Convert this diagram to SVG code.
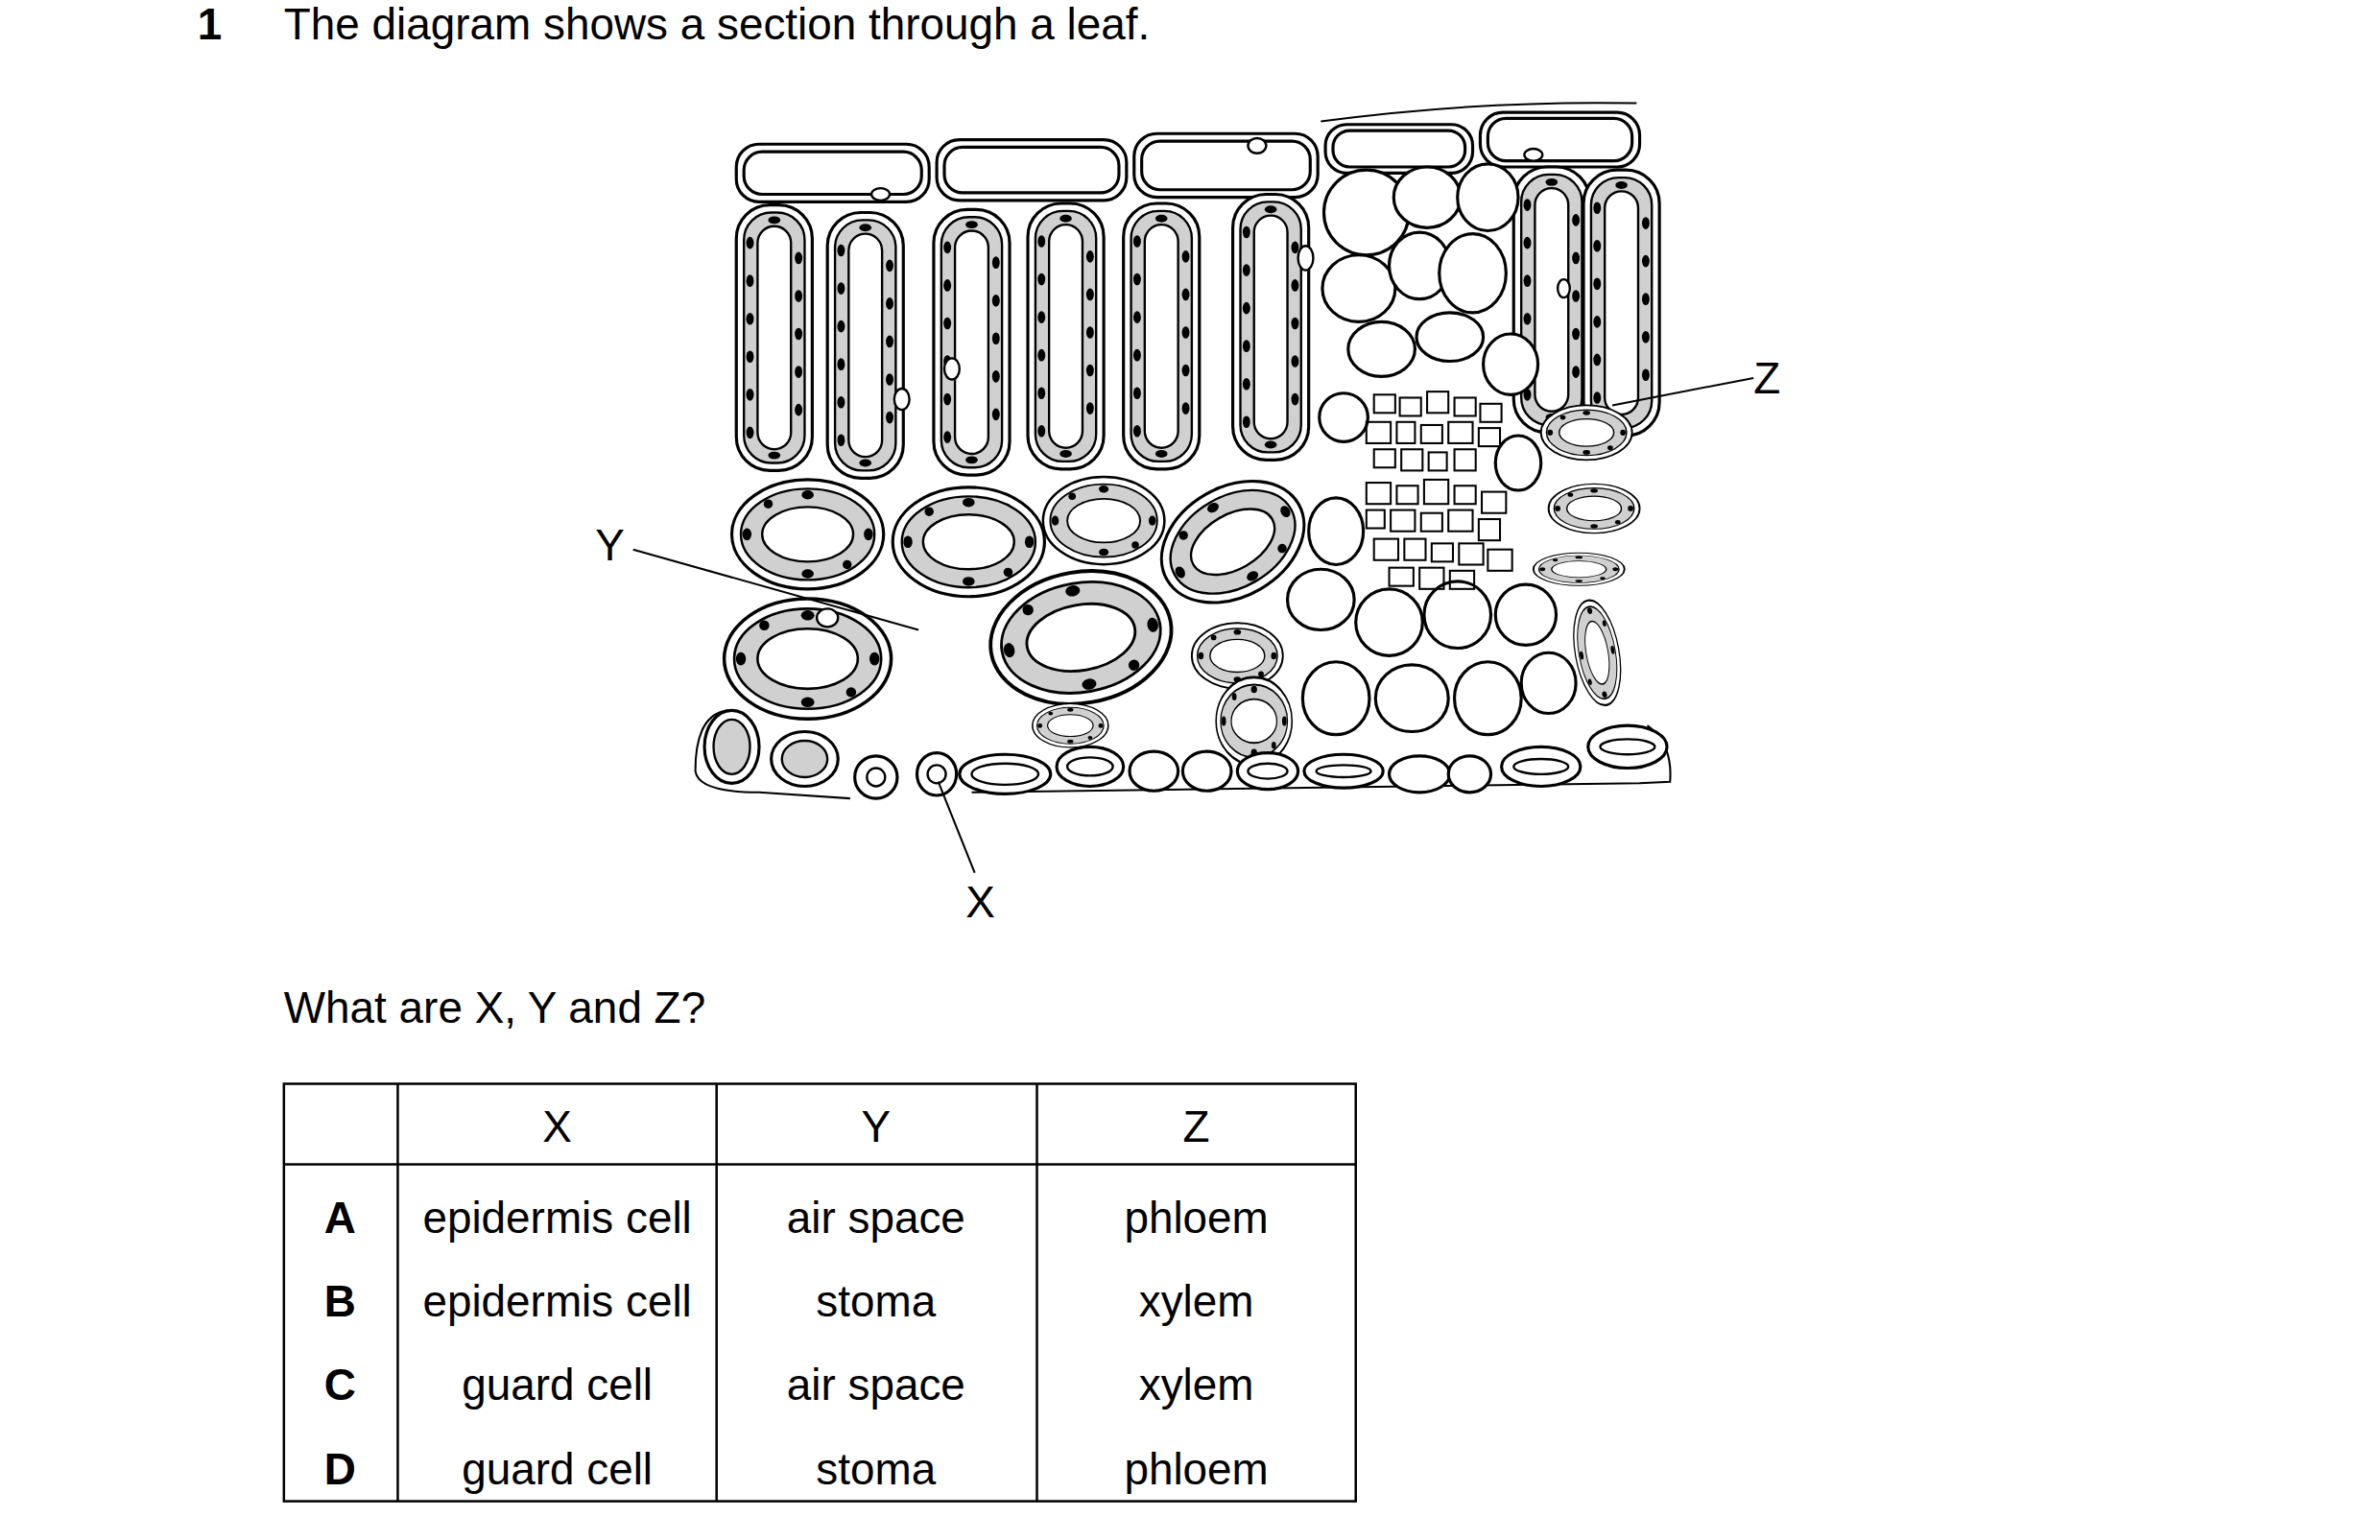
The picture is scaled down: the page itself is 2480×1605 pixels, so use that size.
<svg xmlns="http://www.w3.org/2000/svg" width="2480" height="1605" viewBox="0 0 2480 1605">
<style>
text{font-family:"Liberation Sans",Arial,sans-serif;font-size:29px;fill:#000}
.c{text-anchor:middle}
.o{fill:#fff;stroke:#000;stroke-width:2}
.g{fill:#d0d0d0;stroke:#000;stroke-width:1.5}
.w{fill:#fff;stroke:#000;stroke-width:1.5}
.l{stroke:#000;stroke-width:1.3;fill:none}
.t{stroke:#000;stroke-width:1.6;fill:none}
</style>
<defs>
<g id="pal"><rect x="0" y="0" width="50" height="175" rx="22" class="o"/><rect x="5" y="5" width="40" height="165" rx="18" class="g"/><rect x="14" y="14" width="22" height="147" rx="11" class="w"/>
<g fill="#000"><ellipse cx="9" cy="25" rx="2.5" ry="4"/><ellipse cx="9" cy="50" rx="2.5" ry="4"/><ellipse cx="9" cy="75" rx="2.5" ry="4"/><ellipse cx="9" cy="100" rx="2.5" ry="4"/><ellipse cx="9" cy="125" rx="2.5" ry="4"/><ellipse cx="9" cy="150" rx="2.5" ry="4"/><ellipse cx="41" cy="35" rx="2.5" ry="4"/><ellipse cx="41" cy="60" rx="2.5" ry="4"/><ellipse cx="41" cy="85" rx="2.5" ry="4"/><ellipse cx="41" cy="110" rx="2.5" ry="4"/><ellipse cx="41" cy="135" rx="2.5" ry="4"/><ellipse cx="25" cy="165" rx="4" ry="2.5"/><ellipse cx="25" cy="10" rx="4" ry="2.5"/></g></g>
<g id="sp"><ellipse cx="0" cy="0" rx="50" ry="36" class="o"/><ellipse cx="0" cy="0" rx="44" ry="30" class="g"/><ellipse cx="0" cy="0" rx="30" ry="18" class="w"/>
<g fill="#000"><ellipse cx="-40" cy="0" rx="3" ry="4"/><ellipse cx="40" cy="0" rx="3" ry="4"/><ellipse cx="0" cy="-26" rx="4" ry="3"/><ellipse cx="0" cy="26" rx="4" ry="3"/><ellipse cx="-26" cy="-20" rx="3" ry="3"/><ellipse cx="26" cy="20" rx="3" ry="3"/></g></g>
</defs>
<g transform="scale(1.582)">
<g id="title"><text x="130" y="26" style="font-weight:bold">1</text><text x="187" y="26">The diagram shows a section through a leaf.</text></g>
<g id="upper-epidermis">
<rect x="485" y="95" width="127" height="38" rx="15" class="o"/><rect x="490" y="100" width="117" height="28" rx="12" class="o"/>
<rect x="617" y="92" width="125" height="40" rx="15" class="o"/><rect x="622" y="97" width="115" height="30" rx="12" class="o"/>
<rect x="747" y="88" width="121" height="42" rx="15" class="o"/><rect x="752" y="93" width="111" height="32" rx="12" class="o"/>
<rect x="873" y="82" width="97" height="32" rx="14" class="o"/><rect x="878" y="86" width="87" height="24" rx="11" class="o"/>
<rect x="975" y="74" width="105" height="36" rx="15" class="o"/><rect x="980" y="78" width="95" height="28" rx="12" class="o"/>
<path d="M870,80 Q975,66 1078,68" class="l"/>
<ellipse cx="580" cy="128" rx="6" ry="4" class="w"/><ellipse cx="828" cy="96" rx="6" ry="5" class="w"/><ellipse cx="1010" cy="102" rx="6" ry="4" class="w"/>
</g>
<g id="palisade">
<use href="#pal" x="485" y="135"/><use href="#pal" x="545" y="140"/><use href="#pal" x="615" y="138"/><use href="#pal" x="677" y="134"/><use href="#pal" x="740" y="134"/><use href="#pal" x="812" y="128"/><use href="#pal" x="997" y="110"/><use href="#pal" x="1043" y="112"/>
<ellipse cx="627" cy="243" rx="5" ry="7" class="w"/><ellipse cx="594" cy="263" rx="5" ry="7" class="w"/><ellipse cx="860" cy="170" rx="5" ry="8" class="w"/><ellipse cx="1030" cy="190" rx="4" ry="6" class="w"/>
</g>
<g id="spongy">
<use href="#sp" transform="translate(532,352)"/><use href="#sp" transform="translate(638,357)"/><use href="#sp" transform="translate(727,343) scale(0.8)"/><use href="#sp" transform="translate(812,357) rotate(-30)"/>
<use href="#sp" transform="translate(532,434) scale(1.1)"/><use href="#sp" transform="translate(712,420) rotate(-10) scale(1.2)"/>
<use href="#sp" transform="translate(815,432) scale(0.6)"/><use href="#sp" transform="translate(826,475) scale(0.5,0.8)"/><use href="#sp" transform="translate(705,478) scale(0.5,0.4)"/>
<use href="#sp" transform="translate(1045,285) scale(0.6,0.5)"/><use href="#sp" transform="translate(1050,335) scale(0.6,0.45)"/><use href="#sp" transform="translate(1040,375) scale(0.6,0.3)"/><use href="#sp" transform="translate(1052,430) rotate(80) scale(0.7,0.4)"/>
<ellipse cx="545" cy="407" rx="7" ry="6" class="w"/>
</g>
<g id="vascular-bundle">
<g class="o">
<ellipse cx="900" cy="140" rx="28" ry="28"/><ellipse cx="940" cy="130" rx="22" ry="20"/><ellipse cx="980" cy="130" rx="20" ry="22"/><ellipse cx="895" cy="190" rx="24" ry="22"/><ellipse cx="935" cy="175" rx="20" ry="22"/><ellipse cx="970" cy="180" rx="22" ry="26"/><ellipse cx="910" cy="230" rx="22" ry="18"/><ellipse cx="955" cy="222" rx="22" ry="16"/><ellipse cx="995" cy="240" rx="18" ry="20"/><ellipse cx="885" cy="275" rx="16" ry="16"/>
<ellipse cx="880" cy="350" rx="18" ry="22"/><ellipse cx="870" cy="395" rx="22" ry="20"/><ellipse cx="915" cy="410" rx="22" ry="22"/><ellipse cx="960" cy="405" rx="22" ry="22"/><ellipse cx="1005" cy="405" rx="20" ry="20"/><ellipse cx="880" cy="460" rx="22" ry="24"/><ellipse cx="930" cy="460" rx="24" ry="22"/><ellipse cx="980" cy="460" rx="22" ry="24"/><ellipse cx="1020" cy="450" rx="18" ry="20"/><ellipse cx="1000" cy="305" rx="15" ry="18"/>
</g>
<g class="l" fill="#fff">
<rect x="905" y="260" width="14" height="12"/><rect x="922" y="262" width="14" height="12"/><rect x="940" y="258" width="14" height="14"/><rect x="958" y="262" width="14" height="12"/><rect x="975" y="266" width="14" height="12"/>
<rect x="900" y="278" width="16" height="14"/><rect x="920" y="278" width="12" height="14"/><rect x="936" y="280" width="14" height="12"/><rect x="954" y="278" width="16" height="14"/><rect x="974" y="282" width="14" height="12"/>
<rect x="905" y="296" width="14" height="12"/><rect x="923" y="296" width="14" height="14"/><rect x="941" y="298" width="12" height="12"/><rect x="958" y="296" width="14" height="14"/>
<rect x="900" y="318" width="16" height="14"/><rect x="920" y="320" width="14" height="12"/><rect x="938" y="316" width="16" height="16"/><rect x="958" y="320" width="14" height="12"/><rect x="976" y="324" width="16" height="14"/>
<rect x="900" y="336" width="12" height="12"/><rect x="916" y="336" width="16" height="14"/><rect x="936" y="338" width="14" height="12"/><rect x="954" y="336" width="16" height="14"/><rect x="974" y="342" width="14" height="14"/>
<rect x="905" y="355" width="16" height="14"/><rect x="925" y="355" width="14" height="14"/><rect x="943" y="358" width="14" height="12"/><rect x="961" y="358" width="16" height="14"/><rect x="980" y="362" width="16" height="14"/>
<rect x="915" y="374" width="16" height="12"/><rect x="935" y="374" width="16" height="14"/><rect x="955" y="376" width="16" height="12"/>
</g>
</g>
<g id="lower-epidermis">
<path d="M458,508 Q458,470 480,468 M1085,478 Q1102,490 1100,515 L1080,516 M458,508 Q460,522 500,522 L560,526 M640,522 L1080,516" class="l"/>
<ellipse cx="482" cy="492" rx="18" ry="24" class="o"/><ellipse cx="482" cy="492" rx="12" ry="18" class="g"/>
<ellipse cx="530" cy="500" rx="22" ry="18" class="o"/><ellipse cx="530" cy="500" rx="15" ry="12" class="g"/>
<ellipse cx="577" cy="512" rx="14" ry="14" class="o"/><ellipse cx="577" cy="512" rx="6" ry="6" class="w"/>
<ellipse cx="617" cy="510" rx="13" ry="14" class="o"/><ellipse cx="617" cy="510" rx="6" ry="6" class="w"/>
<ellipse cx="662" cy="510" rx="30" ry="13" class="o"/><ellipse cx="662" cy="510" rx="22" ry="7" class="w"/>
<ellipse cx="718" cy="505" rx="22" ry="13" class="o"/><ellipse cx="760" cy="508" rx="16" ry="13" class="o"/><ellipse cx="795" cy="508" rx="16" ry="13" class="o"/><ellipse cx="835" cy="508" rx="20" ry="12" class="o"/><ellipse cx="885" cy="508" rx="26" ry="11" class="o"/><ellipse cx="935" cy="510" rx="20" ry="12" class="o"/><ellipse cx="968" cy="510" rx="14" ry="12" class="o"/><ellipse cx="1015" cy="505" rx="26" ry="13" class="o"/><ellipse cx="1072" cy="492" rx="26" ry="14" class="o"/>
<ellipse cx="718" cy="505" rx="15" ry="6" class="w"/><ellipse cx="835" cy="508" rx="13" ry="5" class="w"/><ellipse cx="885" cy="508" rx="18" ry="4" class="w"/><ellipse cx="1015" cy="505" rx="18" ry="5" class="w"/><ellipse cx="1072" cy="492" rx="18" ry="5" class="w"/>
</g>
<g id="connectors">
<line x1="417" y1="362" x2="605" y2="415" class="l"/>
<line x1="618" y1="515" x2="642" y2="575" class="l"/>
<line x1="1155" y1="249" x2="1062" y2="267" class="l"/>
</g>
<g id="labels"><text x="392" y="369">Y</text><text x="636" y="604">X</text><text x="1155" y="259">Z</text></g>
<g id="question"><text x="187" y="674">What are X, Y and Z?</text></g>
<g id="table">
<rect x="187" y="714" width="706" height="275" class="t"/>
<line x1="187" y1="767" x2="893" y2="767" class="t"/>
<line x1="262" y1="714" x2="262" y2="989" class="t"/><line x1="472" y1="714" x2="472" y2="989" class="t"/><line x1="683" y1="714" x2="683" y2="989" class="t"/>
<text x="367" y="752" class="c">X</text><text x="577" y="752" class="c">Y</text><text x="788" y="752" class="c">Z</text>
<text x="224" y="812" class="c" style="font-weight:bold">A</text><text x="224" y="867" class="c" style="font-weight:bold">B</text><text x="224" y="922" class="c" style="font-weight:bold">C</text><text x="224" y="978" class="c" style="font-weight:bold">D</text>
<text x="367" y="812" class="c">epidermis cell</text><text x="577" y="812" class="c">air space</text><text x="788" y="812" class="c">phloem</text>
<text x="367" y="867" class="c">epidermis cell</text><text x="577" y="867" class="c">stoma</text><text x="788" y="867" class="c">xylem</text>
<text x="367" y="922" class="c">guard cell</text><text x="577" y="922" class="c">air space</text><text x="788" y="922" class="c">xylem</text>
<text x="367" y="978" class="c">guard cell</text><text x="577" y="978" class="c">stoma</text><text x="788" y="978" class="c">phloem</text>
</g>
</g>
</svg>
